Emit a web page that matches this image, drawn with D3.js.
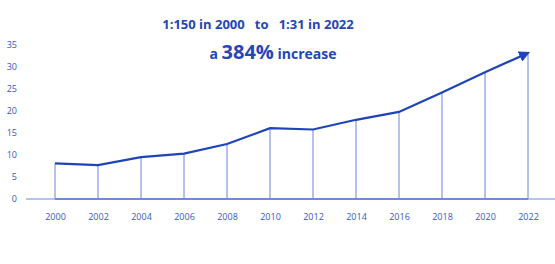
<!DOCTYPE html>
<html lang="en">
<head>
  <meta charset="UTF-8" />
  <title>Ratio trend 2000-2022</title>
  <script src="https://d3js.org/d3.v7.min.js"></script>
  <style>
    body { margin: 0; background: #fff; font-family: "Open Sans", sans-serif; }
    .tick text { fill: #3658c2; font-size: 9px; font-family: "Open Sans", sans-serif; }
    .title { fill: #2346b8; font-weight: 700; }
  </style>
</head>
<body>
  <svg id="chart" width="555" height="264"></svg>

  <script>
  const years = [2000, 2002, 2004, 2006, 2008, 2010, 2012, 2014, 2016, 2018, 2020, 2022];
  const values = [8.1, 7.7, 9.5, 10.3, 12.5, 16.1, 15.8, 18.0, 19.8, 24.2, 28.8, 33.2];
  const yTicks = [0, 5, 10, 15, 20, 25, 30, 35];

  const svg = d3.select("#chart"),
        margin = { top: 45, right: 27, bottom: 65, left: 55 },
        width = +svg.attr("width") - margin.left - margin.right,
        height = +svg.attr("height") - margin.top - margin.bottom,
        g = svg.append("g").attr("transform", `translate(${margin.left},${margin.top})`);

  const x = d3.scaleLinear().domain([2000, 2022]).range([0, width]);
  const y = d3.scaleLinear().domain([0, 35]).range([height, 0]);

  const lineColor = "#1f43b8", dropColor = "#6a86d8";

  // baseline: pale outside the data span
  g.append("line")
    .attr("x1", -29).attr("x2", width + 27)
    .attr("y1", y(0)).attr("y2", y(0))
    .attr("stroke", "#b4c3ef").attr("stroke-width", 2);
  g.append("line")
    .attr("x1", x(2000)).attr("x2", x(2022))
    .attr("y1", y(0)).attr("y2", y(0))
    .attr("stroke", "#6f8ad8").attr("stroke-width", 2);

  // y axis labels only
  const yAxis = g.append("g")
    .attr("transform", "translate(-38,0)")
    .call(d3.axisLeft(y).tickValues(yTicks).tickSize(0).tickPadding(0));
  yAxis.select(".domain").remove();

  const xAxis = g.append("g")
    .attr("transform", `translate(0,${height})`)
    .call(d3.axisBottom(x).tickValues(years).tickFormat(d3.format("d")).tickSize(0).tickPadding(15));
  xAxis.select(".domain").remove();

  // drop lines
  g.selectAll(".drop").data(years).join("line")
    .attr("class", "drop")
    .attr("x1", d => x(d)).attr("x2", d => x(d))
    .attr("y1", y(0))
    .attr("y2", (d, i) => y(values[i]))
    .attr("stroke", dropColor).attr("stroke-width", 1);

  svg.append("defs").append("marker")
    .attr("id", "arrow")
    .attr("viewBox", "0 0 10 10")
    .attr("refX", 8).attr("refY", 5)
    .attr("markerWidth", 5).attr("markerHeight", 5)
    .attr("orient", "auto")
    .append("path")
    .attr("d", "M0,0 L10,5 L0,10 z")
    .attr("fill", lineColor);

  const line = d3.line().x((d, i) => x(years[i])).y(d => y(d));
  g.append("path")
    .datum(values)
    .attr("d", line)
    .attr("fill", "none")
    .attr("stroke", lineColor)
    .attr("stroke-width", 2.2)
    .attr("marker-end", "url(#arrow)");

  // titles
  svg.append("text").attr("class", "title")
    .attr("x", 258).attr("y", 29)
    .attr("text-anchor", "middle")
    .attr("font-size", 13)
    .attr("xml:space", "preserve")
    .text("1:150 in 2000   to   1:31 in 2022");

  const sub = svg.append("text").attr("class", "title")
    .attr("x", 273).attr("y", 59)
    .attr("text-anchor", "middle")
    .attr("font-size", 14);
  sub.append("tspan").text("a ");
  sub.append("tspan").attr("font-size", 20).text("384%");
  sub.append("tspan").text(" increase");
  </script>
</body>
</html>
